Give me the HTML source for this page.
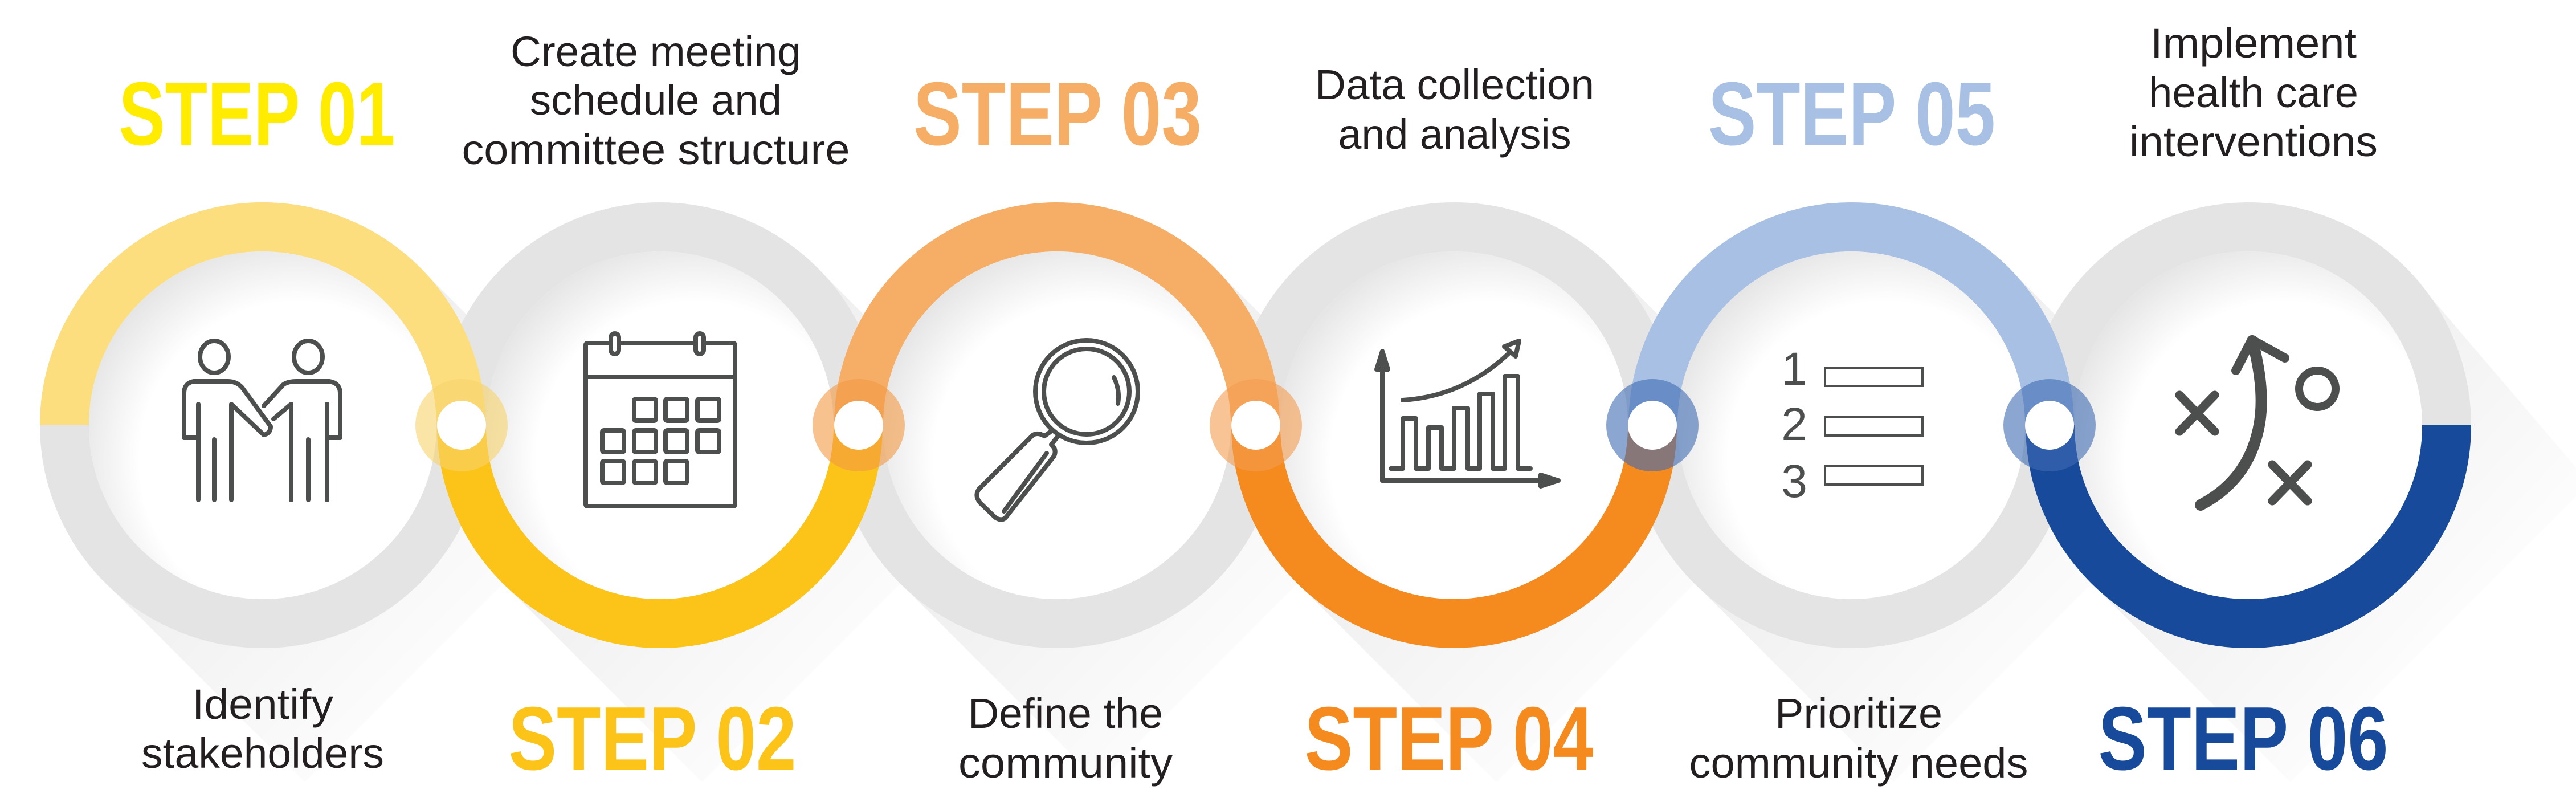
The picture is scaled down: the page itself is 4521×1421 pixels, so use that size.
<!DOCTYPE html>
<html><head><meta charset="utf-8"><style>
html,body{margin:0;padding:0;background:#fff;}
svg{display:block;}
.st{font-family:"Liberation Sans Narrow","Liberation Sans",sans-serif;font-weight:bold;font-size:158px;text-anchor:middle;}
.d{font-family:"Liberation Sans",sans-serif;font-size:74px;fill:#231F20;text-anchor:middle;}
.ic{fill:none;stroke:#4D4F4E;stroke-width:8;stroke-linecap:round;stroke-linejoin:round;}
</style></head><body>
<svg width="4521" height="1421" viewBox="0 0 4521 1421" xmlns="http://www.w3.org/2000/svg">
<defs>
<linearGradient id="sh" x1="0" y1="0" x2="1" y2="1">
<stop offset="0.2" stop-color="#000" stop-opacity="0.08"/>
<stop offset="0.8" stop-color="#000" stop-opacity="0"/>
</linearGradient>
<radialGradient id="inn" cx="0.6" cy="0.6" r="0.65">
<stop offset="0.7" stop-color="#fff"/>
<stop offset="1" stop-color="#e4e4e4"/>
</radialGradient>
</defs>
<g>
<polygon points="737,470 185,1022 535,1372 1087,820" fill="url(#sh)"/>
<polygon points="1434,470 882,1022 1232,1372 1784,820" fill="url(#sh)"/>
<polygon points="2131,470 1579,1022 1929,1372 2481,820" fill="url(#sh)"/>
<polygon points="2828,470 2276,1022 2626,1372 3178,820" fill="url(#sh)"/>
<polygon points="3525,470 2973,1022 3323,1372 3875,820" fill="url(#sh)"/>
<polygon points="4222,470 3670,1022 4020,1372 4521,871 4521,820" fill="url(#sh)"/>
</g>
<g fill="none" stroke="#E4E4E4" stroke-width="86">
<circle cx="461" cy="746" r="348"/>
<circle cx="1158" cy="746" r="348"/>
<circle cx="1855" cy="746" r="348"/>
<circle cx="2552" cy="746" r="348"/>
<circle cx="3249" cy="746" r="348"/>
<circle cx="3946" cy="746" r="348"/>
</g>
<g fill="none" stroke-width="86">
<path d="M113,746 A348,348 0 0 1 809,746" stroke="#FCDE7E"/>
<path d="M810,746 A348,348 0 0 0 1506,746" stroke="#FCC418"/>
<path d="M1507,746 A348,348 0 0 1 2203,746" stroke="#F6AE66"/>
<path d="M2204,746 A348,348 0 0 0 2900,746" stroke="#F58A1F"/>
<path d="M2901,746 A348,348 0 0 1 3597,746" stroke="#A8C0E4"/>
<path d="M3598,746 A348,348 0 0 0 4294,746" stroke="#174A9A"/>
</g>
<g fill="url(#inn)">
<circle cx="461" cy="746" r="305"/>
<circle cx="1158" cy="746" r="305"/>
<circle cx="1855" cy="746" r="305"/>
<circle cx="2552" cy="746" r="305"/>
<circle cx="3249" cy="746" r="305"/>
<circle cx="3946" cy="746" r="305"/>
</g>
<circle cx="810" cy="746" r="81" fill="#F7D26A" opacity="0.6"/>
<circle cx="1507" cy="746" r="81" fill="#F39A45" opacity="0.6"/>
<circle cx="2204" cy="746" r="81" fill="#F49B4E" opacity="0.6"/>
<circle cx="2900" cy="746" r="81" fill="#3F6AB4" opacity="0.6"/>
<circle cx="3597" cy="746" r="81" fill="#3F6AB4" opacity="0.6"/>
<g fill="#fff">
<circle cx="810" cy="746" r="43"/><circle cx="1507" cy="746" r="43"/><circle cx="2204" cy="746" r="43"/>
<circle cx="2900" cy="746" r="43"/><circle cx="3597" cy="746" r="43"/>
</g>
<!-- people -->
<g class="ic">
<ellipse cx="376" cy="626" rx="25" ry="28"/>
<ellipse cx="541" cy="626" rx="25" ry="28"/>
<path d="M348,709 V877 M323,768 H348 M376,771 V877 M406,877 V709 L463,763 Q475,760 475,748 L425,680 Q415,669 400,669 H340 Q323,672 323,690 V768"/>
<path d="M511,877 V709 L480,735 M463,712 L497,675 Q505,669 520,669 H578 Q597,672 597,690 V768 H574 M574,709 V877 M541,771 V877"/>
</g>
<!-- calendar -->
<g class="ic">
<rect x="1028" y="602" width="262" height="286" rx="3"/>
<line x1="1028" y1="661" x2="1290" y2="661"/>
<rect x="1072" y="585" width="14" height="36" rx="7" fill="#fff"/>
<rect x="1221" y="585" width="14" height="36" rx="7" fill="#fff"/>
<rect x="1113" y="700" width="38" height="38" rx="3"/><rect x="1168" y="700" width="38" height="38" rx="3"/><rect x="1224" y="700" width="38" height="38" rx="3"/>
<rect x="1057" y="755" width="38" height="38" rx="3"/><rect x="1113" y="755" width="38" height="38" rx="3"/><rect x="1168" y="755" width="38" height="38" rx="3"/><rect x="1224" y="755" width="38" height="38" rx="3"/>
<rect x="1057" y="809" width="38" height="38" rx="3"/><rect x="1113" y="809" width="38" height="38" rx="3"/><rect x="1168" y="809" width="38" height="38" rx="3"/>
</g>
<!-- magnifier -->
<g class="ic">
<circle cx="1907" cy="687" r="90"/>
<circle cx="1907" cy="687" r="75"/>
<path d="M1955,662 Q1966,685 1962,708"/>
<path d="M1843,758 L1833,765 Q1822,758 1813,763 L1718,858 Q1710,870 1720,882 L1747,908 Q1758,915 1765,908 L1850,800 Q1855,788 1845,780 L1857,765"/>
<path d="M1837,795 L1762,897"/>
</g>
<!-- chart -->
<g class="ic">
<path d="M2426,843 V620 M2416,648 L2426,616 L2436,648 Z"/>
<path d="M2426,843 H2735 M2704,833 L2735,843 L2704,853 Z"/>
<path d="M2441,822 H2462 V734 H2485 V822 H2507 V750 H2530 V822 H2552 V716 H2576 V822 H2597 V691 H2620 V822 H2641 V660 H2664 V822 H2686"/>
<path d="M2462,702 Q2570,695 2650,618 M2640,608 L2666,598 L2660,625 Z"/>
</g>
<!-- list -->
<g font-family="Liberation Sans,sans-serif" font-size="82" fill="#4D4F4E" text-anchor="middle">
<text x="3149" y="675">1</text><text x="3149" y="772">2</text><text x="3149" y="872">3</text>
</g>
<g fill="none" stroke="#4D4F4E" stroke-width="4">
<rect x="3203" y="645" width="171" height="32"/><rect x="3203" y="731" width="171" height="33"/><rect x="3203" y="818" width="171" height="32"/>
</g>
<!-- strategy -->
<g fill="none" stroke="#4D4F4E" stroke-linecap="round" stroke-linejoin="round">
<path d="M3825,693 L3887,757 M3887,693 L3825,757 M3988,815 L4050,879 M4050,815 L3988,879" stroke-width="15"/>
<circle cx="4067" cy="682" r="32" stroke-width="14"/>
<path d="M3862,886 Q3950,840 3966,740 Q3975,680 3953,598" stroke-width="20"/>
<path d="M3924,650 L3952,596 L4010,628" stroke-width="16"/>
</g>
<!-- texts -->
<text class="st" x="451" y="254" fill="#FFEC00" textLength="485" lengthAdjust="spacingAndGlyphs">STEP 01</text>
<text class="st" x="1145" y="1350" fill="#FCC418" textLength="505" lengthAdjust="spacingAndGlyphs">STEP 02</text>
<text class="st" x="1856" y="254" fill="#F6AE66" textLength="506" lengthAdjust="spacingAndGlyphs">STEP 03</text>
<text class="st" x="2543" y="1350" fill="#F58A1F" textLength="507" lengthAdjust="spacingAndGlyphs">STEP 04</text>
<text class="st" x="3250" y="254" fill="#A8C0E4" textLength="504" lengthAdjust="spacingAndGlyphs">STEP 05</text>
<text class="st" x="3937" y="1350" fill="#174A9A" textLength="509" lengthAdjust="spacingAndGlyphs">STEP 06</text>
<text class="d" x="1151" y="116" textLength="510" lengthAdjust="spacingAndGlyphs">Create meeting</text>
<text class="d" x="1151" y="201" textLength="442" lengthAdjust="spacingAndGlyphs">schedule and</text>
<text class="d" x="1151" y="288" textLength="681" lengthAdjust="spacingAndGlyphs">committee structure</text>
<text class="d" x="461" y="1261" textLength="248" lengthAdjust="spacingAndGlyphs">Identify</text>
<text class="d" x="461" y="1347" textLength="426" lengthAdjust="spacingAndGlyphs">stakeholders</text>
<text class="d" x="2553" y="174" textLength="490" lengthAdjust="spacingAndGlyphs">Data collection</text>
<text class="d" x="2553" y="261" textLength="409" lengthAdjust="spacingAndGlyphs">and analysis</text>
<text class="d" x="1870" y="1277" textLength="342" lengthAdjust="spacingAndGlyphs">Define the</text>
<text class="d" x="1870" y="1364" textLength="376" lengthAdjust="spacingAndGlyphs">community</text>
<text class="d" x="3955" y="101" textLength="362" lengthAdjust="spacingAndGlyphs">Implement</text>
<text class="d" x="3955" y="188" textLength="368" lengthAdjust="spacingAndGlyphs">health care</text>
<text class="d" x="3955" y="274" textLength="436" lengthAdjust="spacingAndGlyphs">interventions</text>
<text class="d" x="3262" y="1277" textLength="294" lengthAdjust="spacingAndGlyphs">Prioritize</text>
<text class="d" x="3262" y="1364" textLength="595" lengthAdjust="spacingAndGlyphs">community needs</text>
</svg>
</body></html>
